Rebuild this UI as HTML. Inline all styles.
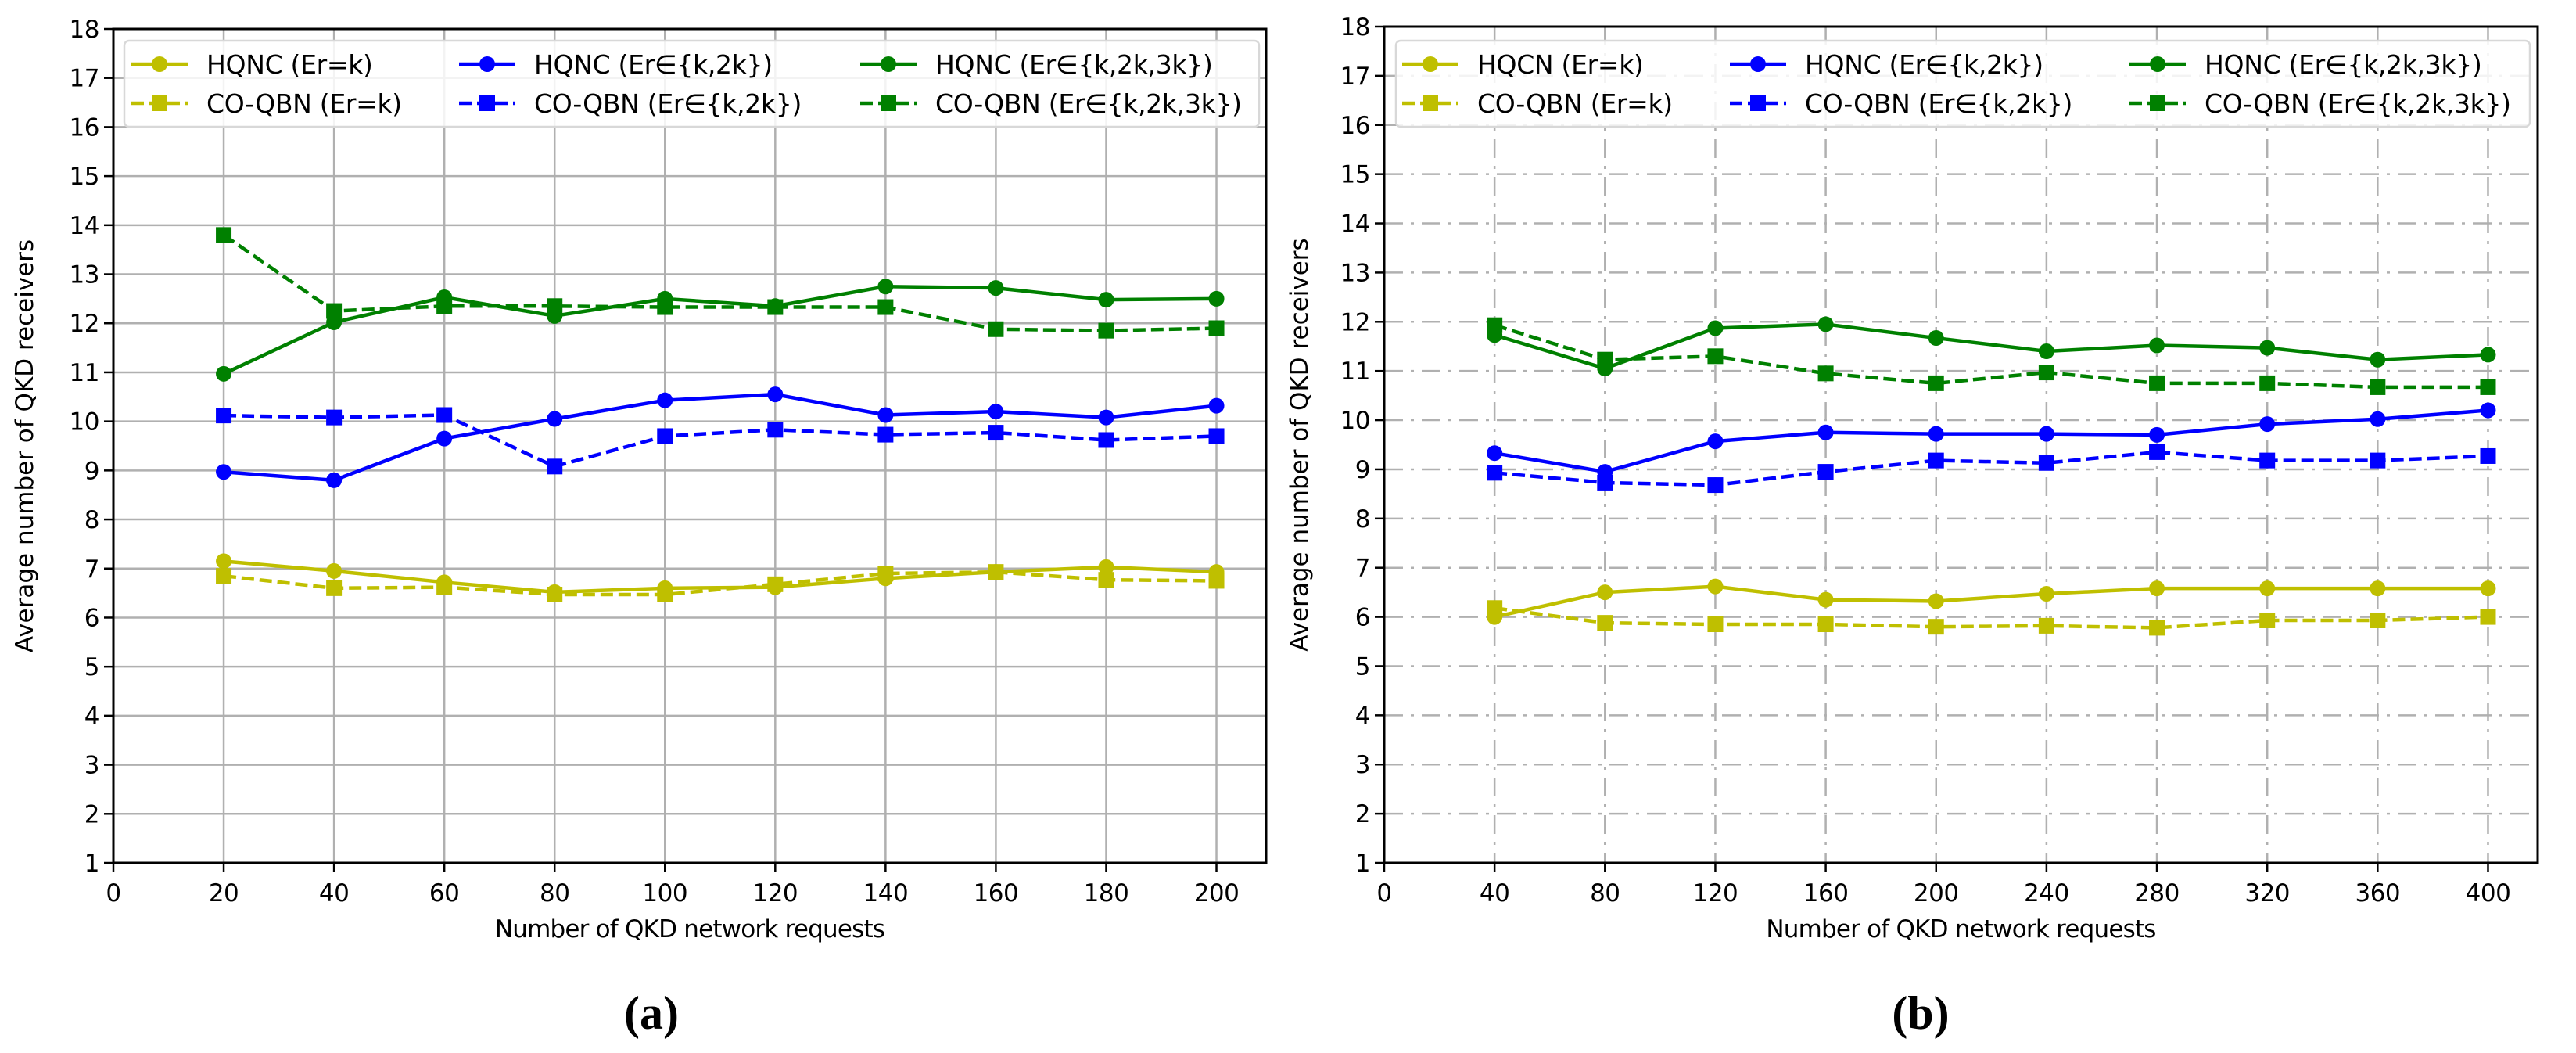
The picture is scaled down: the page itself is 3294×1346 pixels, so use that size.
<!DOCTYPE html>
<html><head><meta charset="utf-8">
<style>
html,body{margin:0;padding:0;background:#fff;}
svg{display:block;}
text{font-family:"DejaVu Sans","Liberation Sans",sans-serif;fill:#000;}
</style></head>
<body>
<svg id="fig" width="3294" height="1346" viewBox="0 0 3294 1346" xmlns="http://www.w3.org/2000/svg"></svg>
<script>
// ---- Data: chart (a)
const xA = [20,40,60,80,100,120,140,160,180,200];
const a_hqnc_k  = [7.15,6.95,6.72,6.52,6.6,6.62,6.8,6.93,7.03,6.93];
const a_coqbn_k = [6.85,6.6,6.62,6.47,6.47,6.68,6.9,6.93,6.77,6.75];
const a_hqnc_2k = [8.97,8.8,9.65,10.05,10.43,10.55,10.13,10.2,10.08,10.32];
const a_coqbn_2k= [10.12,10.08,10.13,9.08,9.7,9.83,9.73,9.77,9.62,9.7];
const a_hqnc_3k = [10.97,12.02,12.53,12.15,12.5,12.35,12.75,12.72,12.48,12.5];
const a_coqbn_3k= [13.8,12.25,12.35,12.35,12.33,12.33,12.33,11.88,11.85,11.9];
const a_xticks = [0,20,40,60,80,100,120,140,160,180,200];
// ---- Data: chart (b)
const xB = [40,80,120,160,200,240,280,320,360,400];
const b_hqcn_k  = [6.0,6.5,6.62,6.35,6.32,6.47,6.58,6.58,6.58,6.58];
const b_coqbn_k = [6.18,5.88,5.85,5.85,5.8,5.82,5.78,5.93,5.93,6.0];
const b_hqnc_2k = [9.33,8.95,9.57,9.75,9.72,9.72,9.7,9.92,10.02,10.2];
const b_coqbn_2k= [8.93,8.73,8.68,8.95,9.18,9.13,9.35,9.18,9.18,9.27];
const b_hqnc_3k = [11.73,11.05,11.87,11.95,11.67,11.4,11.52,11.47,11.23,11.33];
const b_coqbn_3k= [11.93,11.23,11.3,10.95,10.75,10.97,10.75,10.75,10.67,10.67];
const b_xticks = [0,40,80,120,160,200,240,280,320,360,400];
const yticks = [1,2,3,4,5,6,7,8,9,10,11,12,13,14,15,16,17,18];
const labelsA = ["HQNC (Er=k)","CO-QBN (Er=k)","HQNC (Er\u2208{k,2k})","CO-QBN (Er\u2208{k,2k})","HQNC (Er\u2208{k,2k,3k})","CO-QBN (Er\u2208{k,2k,3k})"];
const labelsB = ["HQCN (Er=k)","CO-QBN (Er=k)","HQNC (Er\u2208{k,2k})","CO-QBN (Er\u2208{k,2k})","HQNC (Er\u2208{k,2k,3k})","CO-QBN (Er\u2208{k,2k,3k})"];

const NS="http://www.w3.org/2000/svg";
const svg=document.getElementById('fig');
function el(tag,attrs,parent){const e=document.createElementNS(NS,tag);for(const k in attrs)e.setAttribute(k,attrs[k]);(parent||svg).appendChild(e);return e;}
const COLORS=["#bfbf00","#bfbf00","#0000ff","#0000ff","#008000","#008000"];

function drawChart(cfg){
  const g=el('g',{});
  
  
  const L=cfg.left,R=cfg.right,T=cfg.top,B=cfg.bottom;
  const xs=v=>L+(v-0)/(cfg.xmax)*(R-L);
  const ys=v=>B-(v-1)/(18-1)*(B-T);
  const grid=el('g',{},g);
  
  
  const dash=cfg.dashdot?"24,10,4,10":"none";
  cfg.xticks.forEach(t=>{const l=el('line',{x1:xs(t),x2:xs(t),y1:T,y2:B,stroke:"#b0b0b0","stroke-width":2.5,"stroke-dasharray":dash},grid);
    });
  yticks.forEach(t=>{const l=el('line',{x1:L,x2:R,y1:ys(t),y2:ys(t),stroke:"#b0b0b0","stroke-width":2.5,"stroke-dasharray":dash},grid);
    });
  cfg.series.forEach((s,i)=>{
    const sg=el('g',{},g);
    
    
    const pts=s.map((v,j)=>xs(cfg.x[j])+","+ys(v)).join(" ");
    el('polyline',{points:pts,fill:"none",stroke:COLORS[i],"stroke-width":4.5,"stroke-dasharray":(i%2)?"16,7":"none","stroke-linejoin":"round"},sg);
    s.forEach((v,j)=>{
      let m;
      if(i%2===0) m=el('circle',{cx:xs(cfg.x[j]),cy:ys(v),r:10,fill:COLORS[i]},sg);
      else m=el('rect',{x:xs(cfg.x[j])-10,y:ys(v)-10,width:20,height:20,fill:COLORS[i]},sg);
      
      
    });
  });
  const fr=el('rect',{x:L,y:T,width:R-L,height:B-T,fill:"none",stroke:"#000","stroke-width":3},g);
  
  cfg.xticks.forEach(t=>{
    el('line',{x1:xs(t),x2:xs(t),y1:B,y2:B+12,stroke:"#000","stroke-width":2.5},g);
    const tx=el('text',{x:xs(t),y:B+49,"font-size":31,"text-anchor":"middle","letter-spacing":"-0.5"},g);
    tx.textContent=t;
  });
  yticks.forEach(t=>{
    el('line',{x1:L-12,x2:L,y1:ys(t),y2:ys(t),stroke:"#000","stroke-width":2.5},g);
    const tx=el('text',{x:L-18,y:ys(t)+11,"font-size":31,"text-anchor":"end","letter-spacing":"-0.5"},g);
    tx.textContent=t;
  });
  const xt=el('text',{x:(L+R)/2,y:1198,"font-size":31,"text-anchor":"middle","letter-spacing":"-0.8"},g);
  xt.textContent="Number of QKD network requests";
  
  const yt=el('text',{x:cfg.ytx,y:(T+B)/2,"font-size":31,"text-anchor":"middle",transform:`rotate(-90 ${cfg.ytx} ${(T+B)/2})`},g);
  yt.textContent="Average number of QKD receivers";
  
  const lg=el('g',{},g);
  
  
  el('rect',{x:cfg.leg.x,y:52,width:cfg.leg.w,height:110,rx:6,fill:"#fff","fill-opacity":0.85,stroke:"#d8d8d8","stroke-width":2.5},lg);
  cfg.labels.forEach((lab,i)=>{
    const col=Math.floor(i/2),row=i%2;
    const lx=cfg.leg.cols[col],ly=row?132:82;
    const e=el('g',{},lg);
    
    
    el('line',{x1:lx,x2:lx+72,y1:ly,y2:ly,stroke:COLORS[i],"stroke-width":4.5,"stroke-dasharray":row?"16,7":"none"},e);
    if(row===0) el('circle',{cx:lx+36,cy:ly,r:10,fill:COLORS[i]},e);
    else el('rect',{x:lx+26,y:ly-10,width:20,height:20,fill:COLORS[i]},e);
    const t=el('text',{x:lx+96,y:ly+12,"font-size":33,"letter-spacing":"-0.3"},e);t.textContent=lab;
  });
  const cap=el('text',{x:cfg.capx,y:1315,"font-size":60,"font-weight":"bold","text-anchor":"middle",style:"font-family:'Liberation Serif',serif"},g);
  cap.textContent=cfg.cap;
}

drawChart({name:'chart-a',left:145,right:1619,top:37,bottom:1103,xmax:209,x:xA,xticks:a_xticks,
  series:[a_hqnc_k,a_coqbn_k,a_hqnc_2k,a_coqbn_2k,a_hqnc_3k,a_coqbn_3k],labels:labelsA,ytx:42,
  leg:{x:159,w:1451,cols:[168,587,1100]},capx:833,cap:"(a)",dashdot:false});
drawChart({name:'chart-b',left:1770,right:3245,top:34,bottom:1103,xmax:418,x:xB,xticks:b_xticks,
  series:[b_hqcn_k,b_coqbn_k,b_hqnc_2k,b_coqbn_2k,b_hqnc_3k,b_coqbn_3k],labels:labelsB,ytx:1672,
  leg:{x:1785,w:1450,cols:[1793,2212,2723]},capx:2456,cap:"(b)",dashdot:true});
</script>
</body></html>
